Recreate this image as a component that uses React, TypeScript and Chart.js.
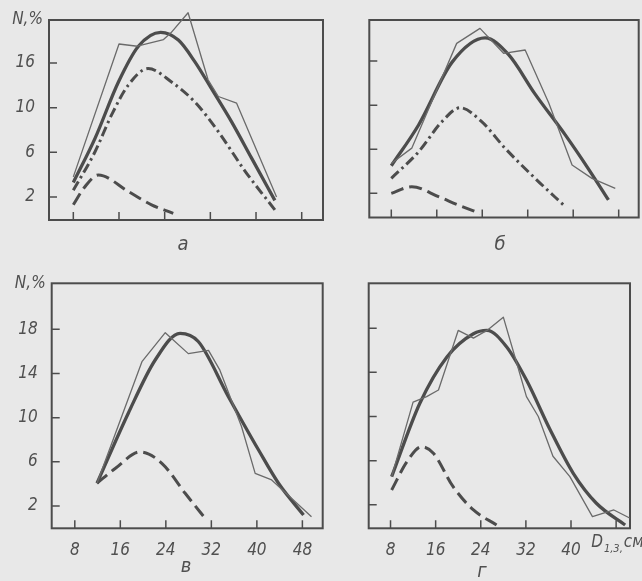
import React, { useEffect, useRef } from "react";
import { Chart, registerables } from "chart.js";

Chart.register(...registerables);

// ---------- tick values / labels ----------
const xTickValues = [8, 16, 24, 32, 40, 48];
const xTickLabelsV = ["8", "16", "24", "32", "40", "48"];
const xTickLabelsG = ["8", "16", "24", "32", "40", ""];
const yTickValuesTop = [2, 6, 10, 14];
const yTickLabelsA = ["2", "6", "10", "16"];
const yTickValuesBottom = [2, 6, 10, 14, 18];
const yTickLabelsV = ["2", "6", "10", "14", "18"];
const panelLetters = ["а", "б", "в", "г"];
const yAxisTitle = "N,%";
const xAxisTitleMain = "D";
const xAxisTitleSub = "1,3,";
const xAxisTitleUnit = "см";

// ---------- panel а ----------
const aThinX = [8, 16, 19.2, 23.8, 25.1, 28.1, 31.6, 33.4, 36.6, 43.6];
const aThinY = [3.8, 15.7, 15.5, 16.1, 16.7, 18.5, 12.5, 11.0, 10.4, 2.0];
const aThickX = [8, 11.8, 15.9, 19.4, 23.3, 26.4, 29.3, 32.2, 35.7, 39.2, 43.3];
const aThickY = [3.3, 7.25, 12.3, 15.5, 16.75, 16.05, 14.1, 11.7, 8.75, 5.5, 1.7];
const aDashDotX = [8, 11.8, 14.7, 17.6, 21.1, 25.2, 29.3, 33.4, 38.1, 43.3];
const aDashDotY = [2.6, 6.05, 9.35, 12.0, 13.5, 12.3, 10.5, 7.85, 4.3, 0.85];
const aDashX = [8, 10, 12.4, 17.6, 21.7, 25.5];
const aDashY = [1.3, 2.9, 3.97, 2.5, 1.3, 0.54];

// ---------- panel б ----------
const bThinX = [8, 11.6, 19.5, 23.6, 27.75, 31.55, 35.7, 39.8, 43.3, 47.4];
const bThinY = [4.7, 6.1, 15.6, 16.96, 14.7, 15.0, 10.2, 4.57, 3.36, 2.45];
const bThickX = [8, 12.8, 18.7, 24.5, 28.6, 33.3, 38.6, 42.7, 46.2];
const bThickY = [4.5, 8.2, 13.9, 16.1, 14.6, 11.0, 7.3, 4.2, 1.4];
const bDashDotX = [8, 12.8, 16.9, 20.1, 23.9, 28.0, 33.3, 38.6];
const bDashDotY = [3.36, 5.77, 8.5, 9.76, 8.5, 6.1, 3.36, 0.8];
const bDashX = [8, 11.6, 16.3, 19.8, 23.6];
const bDashY = [2.0, 2.6, 1.7, 0.94, 0.19];

// ---------- panel в ----------
const vThinX = [11.9, 19.8, 23.9, 27.95, 31.5, 33.5, 37.3, 39.7, 42.6, 49.6];
const vThinY = [4.06, 15.07, 17.7, 15.8, 16.1, 14.3, 9.2, 4.96, 4.36, 1.03];
const vThickX = [11.9, 17.4, 22.1, 26.5, 29.7, 35.0, 40.3, 43.8, 48.2];
const vThickY = [4.06, 10.4, 15.2, 17.64, 16.9, 11.9, 7.07, 4.06, 1.18];
const vDashX = [11.9, 15.1, 19.5, 23.3, 27.4, 30.9];
const vDashY = [4.06, 5.4, 6.9, 5.87, 3.15, 0.89];

// ---------- panel г ----------
const gThinX = [8.2, 12.0, 14.4, 16.5, 20.0, 22.7, 25.1, 28.0, 30.4, 32.1, 34.2, 36.8, 39.8, 43.8, 47.6, 50.4];
const gThinY = [4.55, 11.3, 11.8, 12.4, 17.8, 17.1, 17.8, 19.0, 14.8, 11.8, 10.0, 6.4, 4.55, 0.93, 1.53, 0.8];
const gThickX = [8.2, 13.2, 18.0, 22.7, 25.1, 28.6, 32.1, 36.3, 40.4, 44.5, 49.6];
const gThickY = [4.55, 11.2, 15.4, 17.5, 17.8, 16.3, 13.3, 8.8, 4.85, 2.14, 0.17];
const gDashX = [8.2, 10.9, 13.5, 15.6, 19.1, 22.7, 26.8];
const gDashY = [3.34, 5.9, 7.26, 6.67, 3.64, 1.53, 0.17];

// ---------- styling ----------
const W = 642;
const H = 581;
const FONT = "'Liberation Sans Narrow', 'DejaVu Sans Condensed', 'Noto Sans', sans-serif";
const INK = "#4c4c4c";
const TEXT = "#505050";
const YW = 40;
const XH = 30;

type Kind = "thin" | "thick" | "dashdot" | "dash";
type Series = { x: number[]; y: number[]; kind: Kind };
type Panel = {
  box: [number, number, number, number];
  xr: [number, number];
  yr: [number, number];
  yTicks: number[];
  yLabels: string[] | null;
  xLabels: string[] | null;
  letter: string;
  letterPos: [number, number];
  yTitle: boolean;
  dLabel: boolean;
  series: Series[];
};

const panels: Panel[] = [
  {
    box: [49, 20, 323, 220], xr: [3.74, 51.73], yr: [-0.06, 17.85],
    yTicks: yTickValuesTop, yLabels: yTickLabelsA, xLabels: null,
    letter: panelLetters[0], letterPos: [183, 245], yTitle: true, dLabel: false,
    series: [
      { x: aThinX, y: aThinY, kind: "thin" },
      { x: aDashX, y: aDashY, kind: "dash" },
      { x: aDashDotX, y: aDashDotY, kind: "dashdot" },
      { x: aThickX, y: aThickY, kind: "thick" },
    ],
  },
  {
    box: [369.3, 20, 638.7, 217.5], xr: [4.13, 51.52], yr: [-0.19, 17.72],
    yTicks: yTickValuesTop, yLabels: null, xLabels: null,
    letter: panelLetters[1], letterPos: [500, 245], yTitle: false, dLabel: false,
    series: [
      { x: bThinX, y: bThinY, kind: "thin" },
      { x: bDashX, y: bDashY, kind: "dash" },
      { x: bDashDotX, y: bDashDotY, kind: "dashdot" },
      { x: bThickX, y: bThickY, kind: "thick" },
    ],
  },
  {
    box: [51.7, 283.3, 322.7, 528.3], xr: [3.94, 51.57], yr: [-0.02, 22.17],
    yTicks: yTickValuesBottom, yLabels: yTickLabelsV, xLabels: xTickLabelsV,
    letter: panelLetters[2], letterPos: [186, 567], yTitle: true, dLabel: false,
    series: [
      { x: vThinX, y: vThinY, kind: "thin" },
      { x: vDashX, y: vDashY, kind: "dash" },
      { x: vThickX, y: vThickY, kind: "thick" },
    ],
  },
  {
    box: [368.7, 283.3, 630, 528.3], xr: [4.13, 50.46], yr: [-0.13, 22.07],
    yTicks: yTickValuesBottom, yLabels: null, xLabels: xTickLabelsG,
    letter: panelLetters[3], letterPos: [482, 572], yTitle: false, dLabel: true,
    series: [
      { x: gThinX, y: gThinY, kind: "thin" },
      { x: gDashX, y: gDashY, kind: "dash" },
      { x: gThickX, y: gThickY, kind: "thick" },
    ],
  },
];

function styleFor(kind: Kind) {
  switch (kind) {
    case "thin":
      return { borderColor: "#6a6a6a", borderWidth: 1.3, tension: 0 };
    case "thick":
      return { borderColor: INK, borderWidth: 3.3, cubicInterpolationMode: "monotone" };
    case "dashdot":
      return { borderColor: INK, borderWidth: 3, borderDash: [10, 4, 2.5, 4], cubicInterpolationMode: "monotone" };
    case "dash":
      return { borderColor: INK, borderWidth: 3, borderDash: [13, 6], cubicInterpolationMode: "monotone" };
  }
}

function makeDecor(p: Panel) {
  return {
    id: "decor",
    beforeDatasetsDraw(chart: any) {
      const { ctx, chartArea } = chart;
      const { left, top, right, bottom } = chartArea;
      const xs = chart.scales.x;
      const ys = chart.scales.y;
      ctx.save();
      ctx.strokeStyle = INK;
      ctx.lineWidth = 2;
      ctx.strokeRect(left, top, right - left, bottom - top);
      ctx.lineWidth = 1.5;
      ctx.beginPath();
      ys.ticks.forEach((t: any) => {
        const py = ys.getPixelForValue(t.value);
        ctx.moveTo(left, py);
        ctx.lineTo(left + 8, py);
      });
      xs.ticks.forEach((t: any) => {
        const px = xs.getPixelForValue(t.value);
        ctx.moveTo(px, bottom);
        ctx.lineTo(px, bottom - 8);
      });
      ctx.stroke();
      ctx.restore();
    },
    afterDraw(chart: any) {
      const { ctx, chartArea } = chart;
      const { left, top, bottom } = chartArea;
      ctx.save();
      ctx.fillStyle = TEXT;
      if (p.yTitle) {
        ctx.font = `italic 17px ${FONT}`;
        ctx.textAlign = "right";
        ctx.textBaseline = "middle";
        ctx.fillText(yAxisTitle, left - 6, top);
      }
      ctx.font = `italic 20px ${FONT}`;
      ctx.textAlign = "center";
      ctx.textBaseline = "middle";
      ctx.fillText(p.letter, p.letterPos[0], p.letterPos[1]);
      if (p.dLabel) {
        const px = chart.scales.x.getPixelForValue(48);
        const base = bottom + 19;
        ctx.textAlign = "left";
        ctx.textBaseline = "alphabetic";
        let x = px - 25;
        ctx.font = `italic 17px ${FONT}`;
        ctx.fillText(xAxisTitleMain, x, base);
        x += ctx.measureText(xAxisTitleMain).width + 1;
        ctx.font = `italic 11px ${FONT}`;
        ctx.fillText(xAxisTitleSub, x, base + 5);
        x += ctx.measureText(xAxisTitleSub).width + 1;
        ctx.font = `italic 17px ${FONT}`;
        ctx.fillText(xAxisTitleUnit, x, base);
      }
      ctx.restore();
    },
  };
}

function PanelChart({ p }: { p: Panel }) {
  const ref = useRef<HTMLCanvasElement>(null);
  useEffect(() => {
    if (!ref.current) return;
    const [L, T, R, B] = p.box;
    const tickFont = { family: FONT, size: 17, style: "italic" as const };
    const chart = new Chart(ref.current, {
      type: "line",
      data: {
        datasets: p.series.map((s) => ({
          data: s.x.map((xv, i) => ({ x: xv, y: s.y[i] })),
          pointRadius: 0,
          fill: false,
          clip: false as any,
          borderCapStyle: "butt",
          borderJoinStyle: "round",
          ...(styleFor(s.kind) as any),
        })),
      },
      options: {
        responsive: false,
        animation: false,
        devicePixelRatio: 1,
        layout: { padding: { left: L - YW, top: T, right: W - R, bottom: H - B - XH } },
        plugins: { legend: { display: false }, tooltip: { enabled: false } },
        scales: {
          x: {
            type: "linear",
            min: p.xr[0],
            max: p.xr[1],
            grid: { display: false },
            border: { display: false },
            afterBuildTicks: (s: any) => {
              s.ticks = xTickValues.map((v) => ({ value: v }));
            },
            afterFit: (s: any) => {
              s.height = XH;
              s.paddingLeft = 0;
              s.paddingRight = 0;
            },
            ticks: {
              display: !!p.xLabels,
              autoSkip: false,
              maxRotation: 0,
              padding: 4,
              color: TEXT,
              font: tickFont,
              callback: (_v: any, i: number) => (p.xLabels ? p.xLabels[i] : ""),
            },
          },
          y: {
            type: "linear",
            min: p.yr[0],
            max: p.yr[1],
            grid: { display: false },
            border: { display: false },
            afterBuildTicks: (s: any) => {
              s.ticks = p.yTicks.map((v) => ({ value: v }));
            },
            afterFit: (s: any) => {
              s.width = YW;
              s.paddingTop = 0;
              s.paddingBottom = 0;
            },
            ticks: {
              display: !!p.yLabels,
              autoSkip: false,
              padding: 6,
              color: TEXT,
              font: tickFont,
              callback: (_v: any, i: number) => (p.yLabels ? p.yLabels[i] : ""),
            },
          },
        },
      } as any,
      plugins: [makeDecor(p)],
    });
    return () => chart.destroy();
  }, [p]);
  return (
    <canvas
      ref={ref}
      width={W}
      height={H}
      style={{ position: "absolute", left: 0, top: 0, width: W, height: H }}
    />
  );
}

export default function App() {
  return (
    <div
      style={{
        position: "fixed",
        left: 0,
        top: 0,
        width: W,
        height: H,
        background: "#e8e8e8",
        overflow: "hidden",
      }}
    >
      {panels.map((p, i) => (
        <PanelChart key={i} p={p} />
      ))}
    </div>
  );
}
